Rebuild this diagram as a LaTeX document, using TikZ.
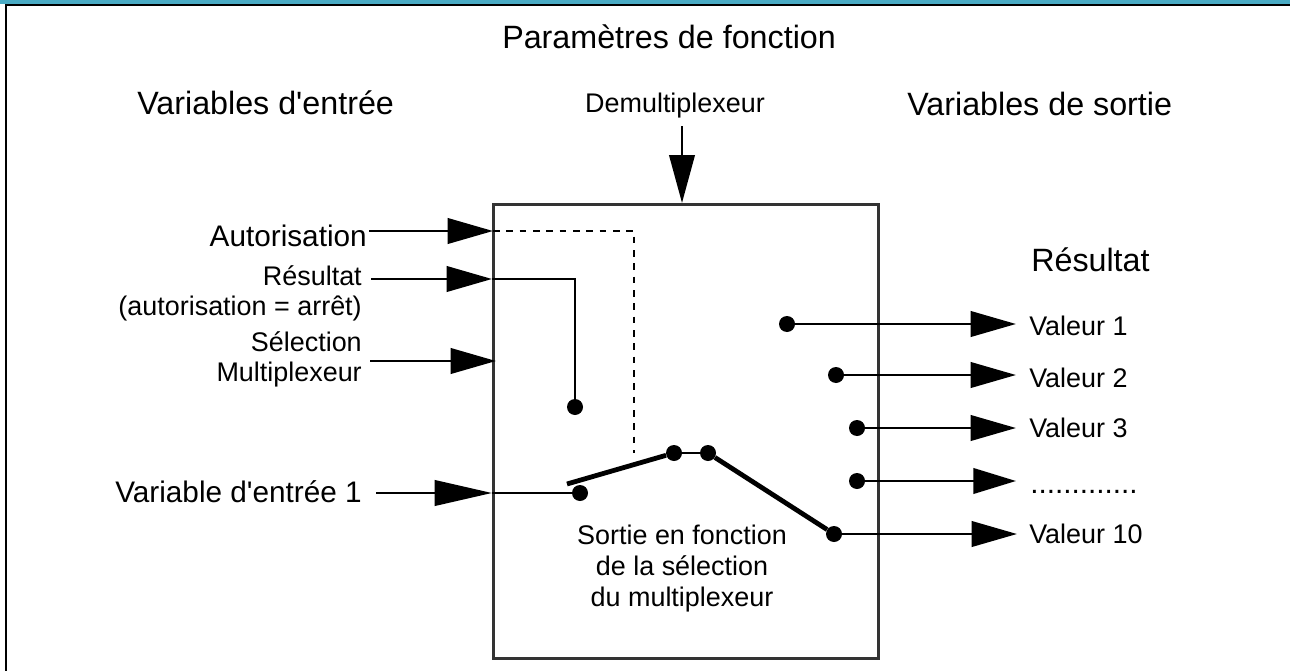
\documentclass[tikz,border=0pt]{standalone}
\usepackage{fontspec}
\setmainfont[Ligatures=TeXOff]{Liberation Sans}
\usetikzlibrary{arrows.meta, positioning}
\definecolor{bandeau}{HTML}{4AABC4}

\begin{document}
\begin{tikzpicture}[
      x=0.75pt, y=-0.75pt,
      lbl/.style={inner sep=0pt, font=\fontsize{20.2pt}{23pt}\selectfont, align=center},
      big/.style={inner sep=0pt, font=\fontsize{22.3pt}{26pt}\selectfont},
      head/.style={inner sep=0pt, font=\fontsize{24.2pt}{28pt}\selectfont},
      arr/.style={-{Triangle[length=#1, width=19pt]}, line width=2.2pt},
      arr/.default=34pt,
      wire/.style={line width=2.2pt},
      lev/.style={line width=3.6pt},
      pin/.style={circle, fill=black, inner sep=0pt, minimum size=12pt},
    ]
    \useasboundingbox (0,0) rectangle (1290,671);
    \fill[bandeau] (0,0) rectangle (1290,4);
    \draw[line width=2pt] (6,671) -- (6,5) -- (1290,5);

    % box
    \node[draw=black!80, line width=2.2pt, inner sep=0pt, minimum width=288.75pt, minimum height=340.5pt, anchor=north west] (mux) at (492,203) {};

    % titles
    \node[head, anchor=base west] (params) at (502,48) {Paramètres de fonction};
    \node[head, anchor=base west] (ventree) at (137,114) {Variables d'entrée};
    \node[head, anchor=base west] (vsortie) at (907,115) {Variables de sortie};
    \node[lbl, anchor=base] (demux) at (675,112) {Demultiplexeur};
    \node[head, anchor=base west] (res) at (1031,271) {Résultat};

    % inputs
    \node[big, anchor=base east] (auto) at (367,246) {Autorisation};
    \node[lbl, anchor=east, align=right] (resarret) at (362,293.5) {Résultat\\(autorisation = arrêt)};
    \node[lbl, anchor=east, align=right] (selmux) at (362,359.5) {Sélection\\Multiplexeur};
    \node[big, anchor=base east] (vare) at (362,502) {Variable d'entrée 1};
    \node[lbl] (sortie) at (682,568.5) {Sortie en fonction\\de la sélection\\du multiplexeur};

    % outputs
    \node[lbl, anchor=base west] (val1) at (1029,335) {Valeur 1};
    \node[lbl, anchor=base west] (val2) at (1029,387) {Valeur 2};
    \node[lbl, anchor=base west] (val3) at (1029,437) {Valeur 3};
    \node[big, anchor=base west] (valn) at (1030,493) {.............};
    \node[lbl, anchor=base west] (val10) at (1029,543) {Valeur 10};

    % contacts
    \node[pin] (pres) at (575,407) {};
    \node[pin] (pin1) at (580,493) {};
    \node[pin] (pa) at (674,453) {};
    \node[pin] (pb) at (708,453) {};
    \node[pin] (p1) at (787,324) {};
    \node[pin] (p2) at (836,375) {};
    \node[pin] (p3) at (857,428) {};
    \node[pin] (pn) at (857,481) {};
    \node[pin] (p10) at (834,534) {};

    \coordinate (lev) at (567,484);
    \coordinate (a0) at (682,126);
    \coordinate (a1) at (369,231);
    \coordinate (a2) at (371,279);
    \coordinate (a3) at (370,361);
    \coordinate (a4) at (376,493);
    \coordinate (t1) at (493,231);
    \coordinate (t2) at (492,279);
    \coordinate (t3) at (496,361);

    \draw[arr=36pt] (a0) -- (a0 |- mux.north);
    \draw[arr] (a1) -- (t1);
    \draw[arr] (a2) -- (t2);
    \draw[arr] (a3) -- (t3);
    \draw[arr=43pt] (a4) -- (a4 -| mux.west);

    \draw[line width=1.8pt, dash pattern=on 5pt off 5pt] (t1) -| (634,453);
    \draw[wire] (t2) -| (pres);
    \draw[wire] (a4 -| mux.west) -- (pin1);

    \draw[lev] (lev) -- (pa);
    \draw[wire] (pa) -- (pb);
    \draw[lev] (pb) -- (p10);

    \draw[arr] (p1) -- (1016,324);
    \draw[arr] (p2) -- (1016,375);
    \draw[arr] (p3) -- (1016,428);
    \draw[arr=32pt] (pn) -- (1016,481);
    \draw[arr] (p10) -- (1017,534);
  \end{tikzpicture}
\end{document}
